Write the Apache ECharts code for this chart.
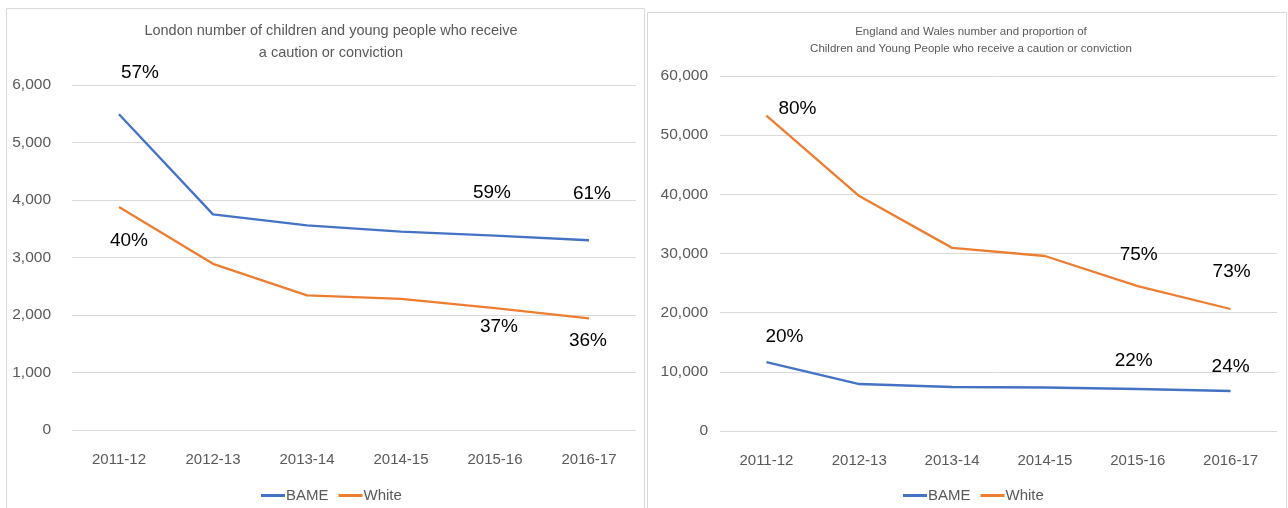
<!DOCTYPE html>
<html>
<head>
<meta charset="UTF-8">
<title>caution_or_conviction</title>
<script src="https://cdn.jsdelivr.net/npm/echarts@6/dist/echarts.min.js"></script>
<style>
  html, body { margin: 0; padding: 0; background: #fff; }
  #main { width: 1288px; height: 508px; }
</style>
</head>
<body>
<div id="main"></div>
<script>
var years = ['2011-12', '2012-13', '2013-14', '2014-15', '2015-16', '2016-17'];

// London
var londonBame = [5490, 3750, 3560, 3450, 3380, 3300];
var londonWhite = [3880, 2890, 2340, 2280, 2120, 1940];
var londonBamePct = ['57%', '', '', '', '59%', '61%'];
var londonWhitePct = ['40%', '', '', '', '37%', '36%'];
var londonTicks = [0, 1000, 2000, 3000, 4000, 5000, 6000];

// England and Wales
var ewBame = [11660, 7940, 7440, 7350, 7100, 6760];
var ewWhite = [53300, 39700, 30950, 29580, 24500, 20620];
var ewBamePct = ['20%', '', '', '', '22%', '24%'];
var ewWhitePct = ['80%', '', '', '', '75%', '73%'];
var ewTicks = [0, 10000, 20000, 30000, 40000, 50000, 60000];

// label nudges (px) so the % sit where the original puts them
var londonBameOff = [[21, -42], null, null, null, [-3, -43], [3, -46]];
var londonWhiteOff = [[10, 34], null, null, null, [4, 19], [-1, 22]];
var ewBameOff = [[18, -25], null, null, null, [-4, -28], [0, -24]];
var ewWhiteOff = [[31, -7], null, null, null, [1, -31], [1, -37]];

var FONT = "'Liberation Sans Narrow', 'Liberation Sans', sans-serif";
var GREY = '#595959';

function points(vals, pcts, offs) {
  return vals.map(function (v, i) {
    if (!pcts[i]) return { value: v, label: { show: false } };
    return {
      value: v,
      label: {
        show: true, position: 'inside', formatter: pcts[i], offset: offs[i],
        color: '#000', fontSize: 19, fontFamily: FONT
      }
    };
  });
}

function fmt(v) { return v.toLocaleString('en-GB'); }

function lineSeries(name, color, idx, data) {
  return {
    name: name, type: 'line', xAxisIndex: idx, yAxisIndex: idx,
    data: data, symbol: 'circle', symbolSize: 0.1, showSymbol: true,
    lineStyle: { color: color, width: 2.3 }, itemStyle: { color: color },
    emphasis: { disabled: true }, animation: false, z: 3
  };
}

var xAxisBase = {
  type: 'category', data: years, boundaryGap: true,
  axisLine: { show: false }, axisTick: { show: false },
  axisLabel: { color: GREY, fontSize: 15, fontFamily: FONT, margin: 22 }
};

var myChart = echarts.init(document.getElementById('main'), null, { renderer: 'canvas' });

option = {
  backgroundColor: '#fff',
  animation: false,
  textStyle: { fontFamily: FONT },
  title: [
    {
      text: 'London number of children and young people who receive\na caution or conviction',
      left: 326, top: 15, textAlign: 'center',
      textStyle: { color: GREY, fontSize: 14.5, fontWeight: 'normal', fontFamily: FONT, lineHeight: 22, align: 'center' }
    },
    {
      text: 'England and Wales number and proportion of\nChildren and Young People who receive a caution or conviction',
      left: 966, top: 18, textAlign: 'center',
      textStyle: { color: GREY, fontSize: 11.5, fontWeight: 'normal', fontFamily: FONT, lineHeight: 17, align: 'center' }
    }
  ],
  legend: [
    {
      data: ['BAME', 'White'], left: 256, top: 483, itemGap: 10,
      icon: 'rect', itemWidth: 24, itemHeight: 3,
      textStyle: { color: GREY, fontSize: 15, fontFamily: FONT, padding: [0, 0, 0, -4] }
    },
    {
      data: ['BAME', 'White'], left: 898, top: 483, itemGap: 10,
      icon: 'rect', itemWidth: 24, itemHeight: 3,
      textStyle: { color: GREY, fontSize: 15, fontFamily: FONT, padding: [0, 0, 0, -4] }
    }
  ],
  graphic: [
    { type: 'rect', shape: { x: 6.5, y: 8.5, width: 638, height: 520 }, style: { fill: 'none', stroke: '#d9d9d9', lineWidth: 1 }, silent: true },
    { type: 'rect', shape: { x: 647.5, y: 12.5, width: 639, height: 520 }, style: { fill: 'none', stroke: '#d9d9d9', lineWidth: 1 }, silent: true }
  ],
  grid: [
    { left: 72, right: 652, top: 85, bottom: 78, containLabel: false },
    { left: 720, right: 11, top: 76, bottom: 77, containLabel: false }
  ],
  xAxis: [
    Object.assign({ gridIndex: 0 }, xAxisBase),
    Object.assign({ gridIndex: 1 }, xAxisBase)
  ],
  yAxis: [
    {
      type: 'value', gridIndex: 0, min: londonTicks[0], max: londonTicks[londonTicks.length - 1], interval: 1000,
      axisLine: { show: false }, axisTick: { show: false },
      splitLine: { lineStyle: { color: '#d9d9d9', width: 1 } },
      axisLabel: { color: GREY, fontSize: 15.5, fontFamily: FONT, margin: 21, formatter: fmt }
    },
    {
      type: 'value', gridIndex: 1, min: ewTicks[0], max: ewTicks[ewTicks.length - 1], interval: 10000,
      axisLine: { show: false }, axisTick: { show: false },
      splitLine: { lineStyle: { color: '#d9d9d9', width: 1 } },
      axisLabel: { color: GREY, fontSize: 15.5, fontFamily: FONT, margin: 12, formatter: fmt }
    }
  ],
  series: [
    lineSeries('BAME', '#4472C4', 0, points(londonBame, londonBamePct, londonBameOff)),
    lineSeries('White', '#ED7D31', 0, points(londonWhite, londonWhitePct, londonWhiteOff)),
    lineSeries('BAME', '#4472C4', 1, points(ewBame, ewBamePct, ewBameOff)),
    lineSeries('White', '#ED7D31', 1, points(ewWhite, ewWhitePct, ewWhiteOff))
  ]
};
myChart.setOption(option);
</script>
</body>
</html>
